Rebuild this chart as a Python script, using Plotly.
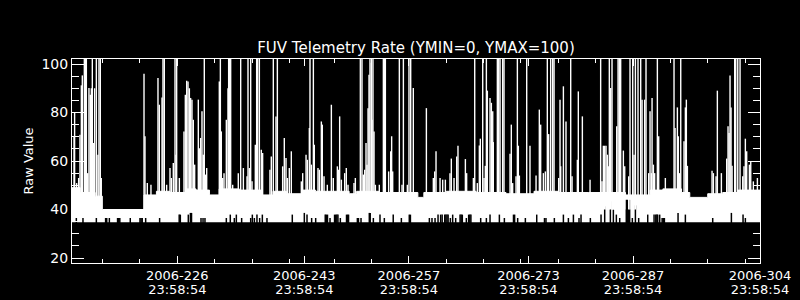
import plotly.graph_objects as go

TITLE = "FUV Telemetry Rate (YMIN=0, YMAX=100)"
Y_TITLE = "Raw Value"

# Axis ticks (day of year 2006)
x_tick_days = [226, 243, 257, 273, 287, 304]
x_tick_dates = ["2006-226", "2006-243", "2006-257", "2006-273", "2006-287", "2006-304"]
x_tick_times = ["23:58:54", "23:58:54", "23:58:54", "23:58:54", "23:58:54", "23:58:54"]
x_minor_days = [216, 221, 231, 236, 241, 247, 252, 262, 267, 272, 277, 282, 292, 297, 302]
y_tick_vals = [20, 40, 60, 80, 100]
X_RANGE = [211.9, 304.0]
Y_RANGE = [17.94, 102.06]

# Dense base band of the telemetry rate: floor and upper envelope
BAND_FLOOR = 34.7
band_day = [211.9, 213.0, 215.0, 215.96, 221.54, 223.2, 225.0, 227.2, 228.5, 230.3, 231.6,
            234.3, 237.4, 238.8, 240.6, 242.7, 244.5, 249.0, 250.0, 253.0, 256.0, 258.2,
            259.0, 262.0, 266.0, 270.0, 273.75, 277.0, 281.0, 284.0, 286.0, 289.3, 291.0,
            293.5, 294.6, 297.0, 299.0, 301.0, 304.0]
band_top = [49, 47, 45.5, 40, 46, 47.5, 47, 48.5, 48, 46, 48.5,
            48, 46, 47.5, 46.5, 48, 47.5, 46.5, 47.5, 47, 47, 45,
            47, 47.5, 47, 46.5, 47.5, 47, 47, 47, 46, 48, 48.5,
            47, 45, 46.5, 47, 48, 48]

# Spikes (peak values; values above 100 run off the top of the plot)
spike_day = [
    212.17, 212.25, 212.52, 212.79, 212.97, 213.15, 213.28, 213.55, 213.68, 213.82, 214.0,
    214.17, 214.35, 214.49, 214.62, 214.75, 214.93, 215.16, 215.38, 215.51, 215.69, 215.82,
    221.54, 221.67, 221.98, 222.47, 223.41, 223.59, 223.95, 224.08, 224.26, 224.57,
    225.02, 225.2, 225.46, 225.69, 225.82, 225.91, 226.27, 226.89, 227.07, 227.25,
    227.43, 227.61, 227.78, 227.96, 228.14, 228.32, 228.81, 228.94, 229.12, 229.3, 229.48,
    229.61, 229.75, 229.93, 231.62, 231.76, 231.89, 232.07, 232.25, 232.56, 232.78, 232.87,
    233.0, 233.14, 233.41, 234.16, 234.48, 234.84, 235.33, 235.46, 235.64, 235.82, 236.0,
    236.44, 236.62, 236.75, 236.98, 237.24, 237.42, 238.4, 238.58, 238.85, 239.21, 239.39,
    240.1, 240.32, 240.55, 240.73, 240.99, 241.26, 242.6, 242.78,
    243.23, 243.4, 243.67, 243.76, 243.94, 244.21, 244.34, 244.83, 245.01, 245.28, 245.41,
    245.64, 246.08, 246.62, 246.88, 247.42, 247.6, 247.73, 247.96, 248.4, 248.62, 248.85,
    249.65, 249.83, 250.5, 250.72, 250.9, 251.08, 251.26, 251.39, 251.53, 251.66, 251.79,
    251.97, 252.06, 252.19, 252.33, 252.51, 253.04, 253.58, 253.71, 253.85, 254.29, 254.56,
    254.69, 254.83, 255.72, 256.08, 256.26, 256.79, 257.01, 257.24, 257.59,
    259.34, 260.27, 260.45, 260.63, 261.17, 261.52, 261.88, 262.5, 262.68, 263.04, 263.4,
    263.57, 264.56, 264.73, 265.63, 265.81, 266.16, 266.43, 266.56, 266.88, 267.06, 267.23,
    267.37, 267.5, 267.86, 268.04, 268.22, 268.3, 268.84, 269.02, 269.2, 269.55, 269.73,
    270.54, 270.71, 270.89, 271.34, 271.52, 271.65, 271.79, 272.77, 273.21,
    274.02, 274.46, 274.64, 275.0, 275.27, 275.53, 275.71, 275.98, 276.25, 276.43, 277.05,
    277.23, 277.32, 277.68, 278.03, 278.66, 278.84, 279.55, 279.68, 280.22, 281.25, 282.67,
    282.85, 283.03, 283.21, 283.39, 283.57, 283.75, 283.83, 284.01, 284.19, 284.82, 285.0,
    285.17, 285.35, 285.71, 285.89, 286.42, 286.6, 286.96, 287.14, 287.32, 287.67, 288.03,
    288.21, 288.56, 288.74, 289.1, 289.28, 289.46,
    289.55, 289.73, 289.9, 290.26, 290.44, 291.33, 292.49, 292.63, 292.94, 293.07, 293.21,
    293.39, 293.83, 294.01, 294.14, 294.28, 297.58, 297.76, 298.12, 298.29, 298.83, 299.54,
    299.72, 299.86, 299.99, 300.12, 300.26, 300.61, 300.75, 301.02, 301.33, 301.69, 301.86,
    302.04, 302.22, 302.58, 302.76, 303.11, 303.65,
]
spike_value = [
    70.2, 79.8, 50.9, 53.0, 70.8, 91.2, 95.3, 105, 105, 105, 55.0,
    90.1, 87.3, 90.0, 105, 67.4, 90.0, 105, 62.6, 105, 105, 53.0,
    96.0, 70.2, 50.9, 50.2, 94.2, 83.2, 86.2, 105, 105, 50.2,
    57.1, 53.0, 59.2, 105, 62.6, 105, 53.0, 72.2, 87.3, 93.1,
    92.8, 90.0, 86.0, 85.3, 77.0, 58.5, 85.3, 65.3, 69.5, 80.5, 62.6,
    105, 54.4, 57.1, 92.8, 105, 72.2, 53.0, 55.0, 77.0, 90.0, 105,
    105, 105, 50.2, 55.0, 105, 57.1, 53.7, 105, 57.1, 105, 51.6,
    66.7, 105, 105, 105, 64.6, 63.3, 56.4, 61.9, 105, 78.4, 105,
    57.8, 69.5, 61.2, 53.0, 57.1, 64.0, 51.6, 55.0,
    62.6, 60.5, 73.6, 105, 58.5, 105, 66.7, 57.1, 56.4, 76.3, 75.0,
    53.7, 50.2, 83.2, 53.0, 57.8, 56.4, 78.4, 52.3, 55.0, 57.1, 50.2,
    50.9, 53.0, 105, 105, 54.4, 56.4, 67.4, 58.5, 81.8, 95.6, 105,
    100.5, 77.0, 105, 72.2, 50.2, 50.2, 105, 105, 105, 55.7, 64.0,
    70.2, 55.7, 105, 50.2, 105, 50.2, 105, 105, 90.1,
    81.8, 53.0, 55.7, 64.0, 53.0, 52.3, 52.3, 55.0, 61.0, 53.0, 61.9,
    66.3, 60.8, 55.0, 53.0, 105, 50.9, 66.4, 69.2, 105, 53.0, 58.0,
    105, 89.0, 86.0, 84.0, 80.5, 67.8, 105, 105, 105, 105, 105,
    63.0, 75.0, 50.9, 53.7, 105, 66.3, 54.0, 105, 66.3,
    54.0, 81.2, 75.0, 55.0, 55.7, 105, 71.1, 105, 105, 105, 53.0,
    85.3, 57.8, 90.8, 76.3, 105, 53.7, 60.5, 88.7, 78.4, 52.3, 105,
    51.6, 66.3, 66.3, 66.3, 62.6, 57.8, 105, 90.1, 105, 74.3, 105,
    105, 105, 64.3, 57.8, 53.7, 105, 105, 62.6, 105, 105, 105,
    85.3, 85.3, 105, 55.0, 80.5, 55.0,
    86.0, 58.5, 55.0, 105, 70.2, 53.0, 105, 73.6, 82.1, 70.2, 55.0,
    105, 68.1, 82.1, 85.3, 58.0, 56.0, 55.0, 53.7, 89.0, 55.0, 61.0,
    74.3, 71.5, 95.3, 82.1, 58.0, 105, 105, 105, 105, 53.7, 57.8,
    69.2, 64.0, 58.5, 59.6, 51.6, 53.0,
]

# Places where the band's minimum rises above the floor
notch_day = [
    212.48, 213.37, 215.16, 216.4, 216.55, 216.9, 218.0, 218.15, 218.3, 219.7, 221.0, 221.15,
    221.3, 221.76, 223.63, 226.25, 226.4,
    227.47, 227.75, 227.9, 229.17, 229.44, 229.7, 232.56, 233.09, 233.63, 233.9, 234.61,
    235.82, 236.04, 236.31, 236.66, 237.02, 237.38, 238.0, 241.39,
    243.0, 243.36, 243.98, 244.52, 245.8, 245.95, 246.1, 246.44, 247.05, 247.2, 247.35,
    247.5, 247.82, 248.65, 248.8, 248.92, 250.1, 250.25, 250.59, 251.7, 251.82, 252.24,
    253.13, 253.71, 254.9, 255.99, 257.05, 257.2,
    259.74, 260.09, 260.5, 260.9, 261.25, 261.45, 261.8, 261.95, 262.1, 262.25, 262.55,
    262.86, 263.26, 263.85, 264.0, 264.15, 264.69, 265.0, 265.15, 265.3, 266.61, 267.37,
    267.86, 269.11, 269.78, 271.0, 271.15, 271.56, 272.59,
    274.11, 275.15, 275.35, 276.47, 277.68, 278.35, 279.02, 279.77, 280.04, 281.29, 282.72,
    283.21, 283.97, 284.37, 284.77, 285.22, 286.1, 286.25, 286.4, 286.55, 286.91, 287.32,
    287.76, 288.97,
    289.82, 290.05, 290.2, 290.3, 290.57, 290.9, 291.05, 291.2, 293.03, 294.01, 297.67,
    300.17, 301.73, 302.04,
]
notch_level = [
    36.5, 36.5, 36.5, 36.5, 36.5, 36.5, 36.5, 36.5, 36.5, 36.5, 36.5, 36.5,
    36.5, 36.5, 36.5, 37.9, 37.9,
    37.9, 38.6, 38.6, 36.5, 36.5, 36.5, 36.5, 37.9, 36.5, 37.9, 36.5,
    36.5, 37.9, 36.5, 37.9, 36.5, 37.9, 36.5, 37.9,
    38.6, 37.9, 36.5, 36.5, 37.9, 37.9, 37.9, 36.5, 37.9, 37.9, 37.9,
    37.9, 36.5, 37.9, 37.9, 37.9, 36.5, 36.5, 36.5, 38.6, 38.6, 36.5,
    37.9, 36.5, 37.9, 36.5, 37.9, 37.9,
    36.5, 36.5, 36.5, 37.9, 37.9, 37.9, 37.9, 37.9, 37.9, 37.9, 36.5,
    37.9, 36.5, 37.9, 37.9, 37.9, 36.5, 37.9, 37.9, 37.9, 36.5, 36.5,
    37.9, 37.9, 36.5, 37.9, 37.9, 36.5, 36.5,
    37.9, 36.5, 36.5, 36.5, 37.9, 36.5, 37.9, 36.5, 37.9, 36.5, 37.9,
    41.3, 43.4, 39.9, 37.9, 36.5, 44.0, 44.0, 44.0, 44.0, 36.5, 41.7,
    36.5, 37.9,
    37.9, 37.9, 37.9, 37.9, 37.9, 36.5, 36.5, 36.5, 38.6, 37.9, 36.5,
    38.6, 37.9, 36.5,
]


def segments(xs, y0, ys):
    sx, sy = [], []
    for x, y in zip(xs, ys):
        sx += [x, x, None]
        sy += [y0, y, None]
    return sx, sy


fig = go.Figure()

# band floor + upper envelope (filled)
fig.add_trace(go.Scatter(x=band_day, y=[BAND_FLOOR] * len(band_day), mode="lines",
                         line=dict(color="white", width=0, shape="hv"), hoverinfo="skip"))
fig.add_trace(go.Scatter(x=band_day, y=band_top, mode="lines", fill="tonexty",
                         fillcolor="white", line=dict(color="white", width=1, shape="hv"),
                         hoverinfo="skip"))

nx, ny = segments(notch_day, BAND_FLOOR - 0.5, notch_level)
fig.add_trace(go.Scatter(x=nx, y=ny, mode="lines", line=dict(color="black", width=1.5),
                         hoverinfo="skip"))

sx, sy = segments(spike_day, 40, spike_value)
fig.add_trace(go.Scatter(x=sx, y=sy, mode="lines", line=dict(color="white", width=1.4),
                         hoverinfo="skip"))

# empty trace so the second (time-of-day label) axis exists
fig.add_trace(go.Scatter(x=[], y=[], xaxis="x2", yaxis="y", hoverinfo="skip"))

fig.update_layout(
    width=800, height=300,
    margin=dict(l=72, r=40, t=59, b=37),
    paper_bgcolor="black", plot_bgcolor="black",
    font=dict(family="DejaVu Sans", color="white", size=14),
    showlegend=False,
    title=dict(text=TITLE, x=0.52, xanchor="center", y=1 - 48 / 300, yanchor="middle",
               font=dict(size=15, color="white")),
    xaxis=dict(range=X_RANGE, showgrid=False, zeroline=False, showline=True,
               linecolor="white", linewidth=1, mirror="ticks", automargin=False,
               tickmode="array", tickvals=x_tick_days, ticktext=x_tick_dates,
               ticks="inside", ticklen=7, tickcolor="white", tickwidth=1,
               tickfont=dict(size=13, color="white"),
               minor=dict(tickmode="array", tickvals=x_minor_days, ticks="inside",
                          ticklen=4, tickcolor="white", tickwidth=1)),
    xaxis2=dict(range=X_RANGE, overlaying="x", anchor="y", side="bottom",
                showgrid=False, zeroline=False, showline=False, automargin=False,
                tickmode="array", tickvals=x_tick_days, ticktext=x_tick_times,
                ticks="", ticklabelstandoff=17,
                tickfont=dict(size=13, color="white")),
    yaxis=dict(range=Y_RANGE, showgrid=False, zeroline=False, showline=True,
               linecolor="white", linewidth=1, mirror="ticks", automargin=False,
               tickmode="array", tickvals=y_tick_vals,
               ticks="inside", ticklen=12, tickcolor="white", tickwidth=1,
               tickfont=dict(size=14, color="white"),
               title=dict(text=Y_TITLE, font=dict(size=13, color="white"), standoff=4),
               minor=dict(tick0=0, dtick=5, ticks="inside", ticklen=7,
                          tickcolor="white", tickwidth=1)),
)

fig.write_html("out.html")
